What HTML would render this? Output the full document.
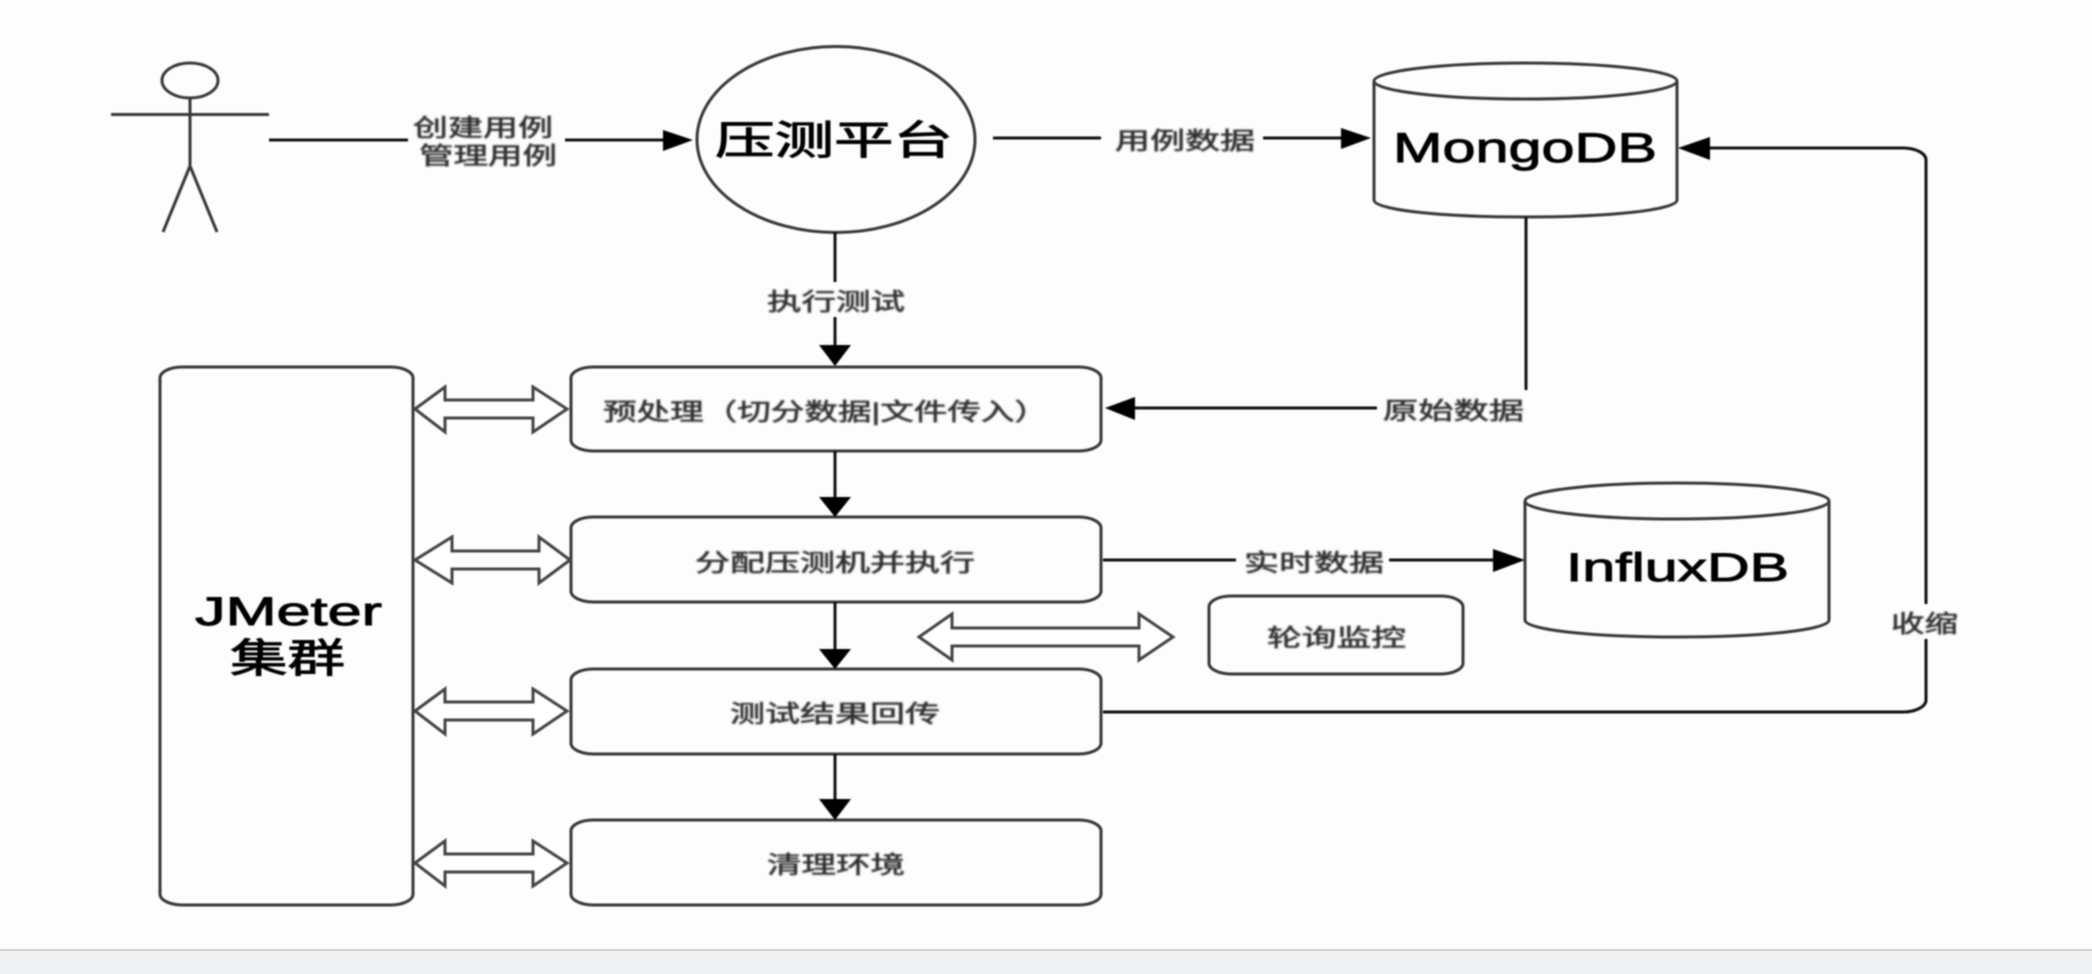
<!DOCTYPE html>
<html lang="zh">
<head>
<meta charset="utf-8">
<style>
html,body{margin:0;padding:0;width:2092px;height:974px;overflow:hidden;background:#fdfdfd}
svg{position:absolute;left:0;top:0;display:block}
#d{filter:blur(0.9px)}
text{font-family:"Liberation Sans","Noto Sans CJK SC",sans-serif;fill:#2e2e2e;stroke:#2e2e2e;stroke-width:.55;filter:url(#t)}
text.b{fill:#000;stroke:#000;stroke-width:.9;filter:none}
.s{fill:none;stroke:#383838;stroke-width:3}
.l{fill:none;stroke:#111;stroke-width:3}
.h{fill:#000;stroke:none}
.d{fill:#fff;stroke:#444;stroke-width:3;stroke-linejoin:miter}
</style>
</head>
<body>
<svg width="2092" height="974" viewBox="0 0 2092 974">
<rect x="0" y="951" width="2092" height="23" fill="#f0f1f3"/>
<rect x="0" y="949" width="2092" height="2" fill="#d2d2d2"/>
</svg>
<svg id="d" width="2092" height="974" viewBox="0 0 2092 974" xmlns="http://www.w3.org/2000/svg">
<defs><filter id="t" x="-5%" y="-25%" width="110%" height="150%"><feGaussianBlur stdDeviation="0.7"/></filter></defs>
<!-- actor -->
<ellipse cx="190" cy="80.500" rx="28" ry="17.500" class="s"/>
<path d="M190 98V166M111 114.500H269M190 166L163 232M190 166L217 232" class="s" stroke-width="2.500"/>

<!-- platform -->
<ellipse cx="836" cy="139.500" rx="139" ry="93" class="s"/>
<text x="715" y="154" font-size="40" textLength="238" lengthAdjust="spacingAndGlyphs" class="b">压测平台</text>

<!-- actor to platform -->
<path d="M269 140H408M565 140H665" class="l"/>
<path d="M663 130L693 140L663 151Z" class="h"/>
<text x="413" y="136" font-size="24" textLength="140" lengthAdjust="spacingAndGlyphs">创建用例</text>
<text x="419" y="164" font-size="24" textLength="138" lengthAdjust="spacingAndGlyphs">管理用例</text>

<!-- platform to mongo -->
<path d="M993 138H1101M1263 138H1343" class="l"/>
<path d="M1341 128L1371 138L1341 149Z" class="h"/>
<text x="1115" y="149" font-size="24" textLength="140" lengthAdjust="spacingAndGlyphs">用例数据</text>

<!-- MongoDB -->
<path d="M1374 81V200C1374 210 1442 217 1525.500 217C1609 217 1677 210 1677 200V81" class="s"/>
<ellipse cx="1525.500" cy="81" rx="151.500" ry="18" class="s"/>
<text x="1393" y="162" font-size="42" textLength="264" lengthAdjust="spacingAndGlyphs" class="b">MongoDB</text>

<!-- shrink connector -->
<path d="M1103 712H1903A23 12 0 0 0 1926 700V639M1926 604V160A23 12 0 0 0 1903 148H1708" class="l"/>
<path d="M1710 137L1678 148L1710 160Z" class="h"/>
<text x="1891" y="632" font-size="24" textLength="67" lengthAdjust="spacingAndGlyphs">收缩</text>

<!-- mongo to box1 -->
<path d="M1526 217V390" class="l" stroke-width="2.500"/>
<path d="M1377 408H1133" class="l"/>
<path d="M1135 397L1105 408L1135 420Z" class="h"/>
<text x="1383" y="419" font-size="24" textLength="141" lengthAdjust="spacingAndGlyphs">原始数据</text>

<!-- execute test -->
<path d="M835 232V282M835 317V347" class="l" stroke-width="2.500"/>
<path d="M819 345H851L835 366Z" class="h"/>
<text x="767" y="310" font-size="24" textLength="138" lengthAdjust="spacingAndGlyphs">执行测试</text>

<!-- JMeter -->
<rect x="160" y="367" width="253" height="538" rx="22" ry="11" class="s"/>
<text x="195" y="625" font-size="40" textLength="187" lengthAdjust="spacingAndGlyphs" class="b">JMeter</text>
<text x="230" y="672" font-size="40" textLength="115" lengthAdjust="spacingAndGlyphs" class="b">集群</text>

<!-- step boxes -->
<rect x="571" y="367" width="530" height="84" rx="22" ry="11" class="s"/>
<rect x="571" y="517" width="530" height="85" rx="22" ry="11" class="s"/>
<rect x="571" y="669" width="530" height="85" rx="22" ry="11" class="s"/>
<rect x="571" y="820" width="530" height="85" rx="22" ry="11" class="s"/>
<text x="603" y="420" font-size="24" textLength="445" lengthAdjust="spacingAndGlyphs">预处理（切分数据|文件传入）</text>
<text x="695" y="571" font-size="24" textLength="280" lengthAdjust="spacingAndGlyphs">分配压测机并执行</text>
<text x="730" y="722" font-size="24" textLength="210" lengthAdjust="spacingAndGlyphs">测试结果回传</text>
<text x="767" y="873" font-size="24" textLength="138" lengthAdjust="spacingAndGlyphs">清理环境</text>

<!-- down arrows -->
<path d="M835 451V499M835 602V651M835 754V801" class="l" stroke-width="2.500"/>
<path d="M819 497H851L835 517Z" class="h"/>
<path d="M819 649H851L835 669Z" class="h"/>
<path d="M819 799H851L835 820Z" class="h"/>

<!-- double arrows -->
<path d="M415 409L445 387V400H533V387L567 409L533 432V418H445V432Z" class="d"/>
<path d="M415 560L452 537V551H539V537L570 560L539 583V569H452V583Z" class="d"/>
<path d="M415 711L445 689V702H533V689L567 711L533 734V720H445V734Z" class="d"/>
<path d="M415 863L445 841V854H533V841L567 863L533 886V872H445V886Z" class="d"/>
<path d="M919 637L952 614V628H1139V614L1173 637L1139 660V646H952V660Z" class="d"/>

<!-- poll box -->
<rect x="1209" y="596" width="254" height="78" rx="22" ry="11" class="s"/>
<text x="1267" y="646" font-size="24" textLength="139" lengthAdjust="spacingAndGlyphs">轮询监控</text>

<!-- realtime -->
<path d="M1103 560H1236M1389 560H1495" class="l"/>
<path d="M1493 549L1525 560L1493 572Z" class="h"/>
<text x="1244" y="571" font-size="24" textLength="140" lengthAdjust="spacingAndGlyphs">实时数据</text>

<!-- InfluxDB -->
<path d="M1525 501V620C1525 630 1593 637 1677 637C1761 637 1829 630 1829 620V501" class="s"/>
<ellipse cx="1677" cy="501" rx="152" ry="18" class="s"/>
<text x="1566" y="581" font-size="40" textLength="223" lengthAdjust="spacingAndGlyphs" class="b">InfluxDB</text>
</svg>
</body>
</html>
